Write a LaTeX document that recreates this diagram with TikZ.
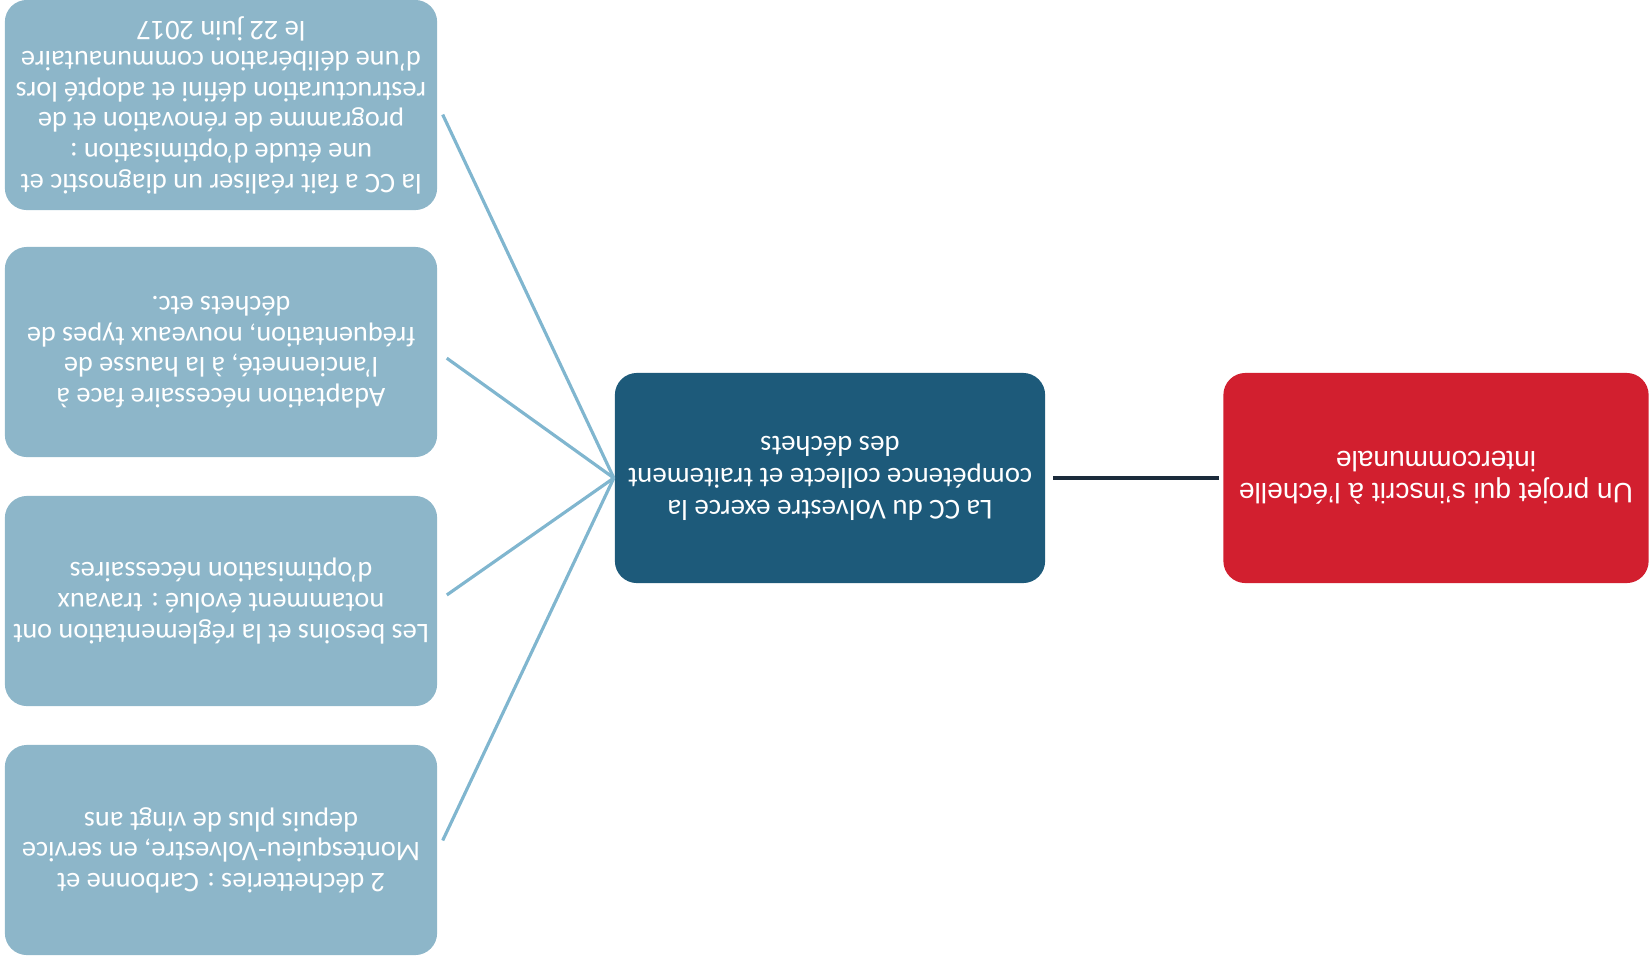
\documentclass[tikz,border=0pt]{standalone}
\usepackage{fontspec}
\setmainfont{Carlito}
\newfontfamily\projetfont{Liberation Sans}
\definecolor{bleuclair}{HTML}{8DB6C9}
\definecolor{lienclair}{HTML}{80B6CF}
\definecolor{bleufonce}{HTML}{1D5A7A}
\definecolor{rouge}{HTML}{D21F2F}
\definecolor{liennoir}{HTML}{1B2B3B}

\begin{document}
\begin{tikzpicture}[x=0.01cm, y=-0.01cm, semithick,
  boite/.style={rectangle, rounded corners=0.22cm, text=white, align=center,
    minimum width=4.3cm, minimum height=2.1cm, rotate=180, inner sep=0pt},
  petite/.style={boite, fill=bleuclair, minimum width=4.32cm,
    font=\fontsize{8.05}{8.7}\selectfont},
  lien/.style={lienclair, line width=0.9pt, shorten <=3pt}]
  \useasboundingbox (0,0) rectangle (1652,963);
  % the whole chart is printed upside down (turned by 180 degrees)
  \node[boite, fill=bleufonce, font=\fontsize{8.2}{9.1}\selectfont] (collecte) at (830,478)
    {La CC du Volvestre exerce la\\ compétence collecte et traitement\\ des déchets};
  \node[boite, fill=rouge, minimum width=4.25cm, font=\projetfont\fontsize{8}{9}\selectfont] (projet) at (1436,478)
    {Un projet qui s’inscrit à l’échelle\\ intercommunale};
  \node[petite] (etude) at (221,105)
    {la CC a fait réaliser un diagnostic et\\ une étude d’optimisation :\\ programme de rénovation et de\\ restructuration défini et adopté lors\\ d’une délibération communautaire\\ le 22 juin 2017};
  \node[petite] (adaptation) at (221,352)
    {Adaptation nécessaire face à\\ l’ancienneté, à la hausse de\\ fréquentation, nouveaux types de\\ déchets etc.};
  \node[petite] (besoins) at (221,601)
    {Les besoins et la réglementation ont\\ notamment évolué : travaux\\ d’optimisation nécessaires};
  \node[petite] (decheteries) at (221,850)
    {2 déchetteries : Carbonne et\\ Montesquieu-Volvestre, en service\\ depuis plus de vingt ans};
  % rotated nodes: east is on the left, west on the right
  \foreach \n in {etude,adaptation,besoins,decheteries}
    \draw[lien] (\n.west) -- (collecte.east);
  \draw[liennoir, line width=1.1pt, shorten <=2pt, shorten >=1pt] (collecte.west) -- (projet.east);
\end{tikzpicture}
\end{document}
